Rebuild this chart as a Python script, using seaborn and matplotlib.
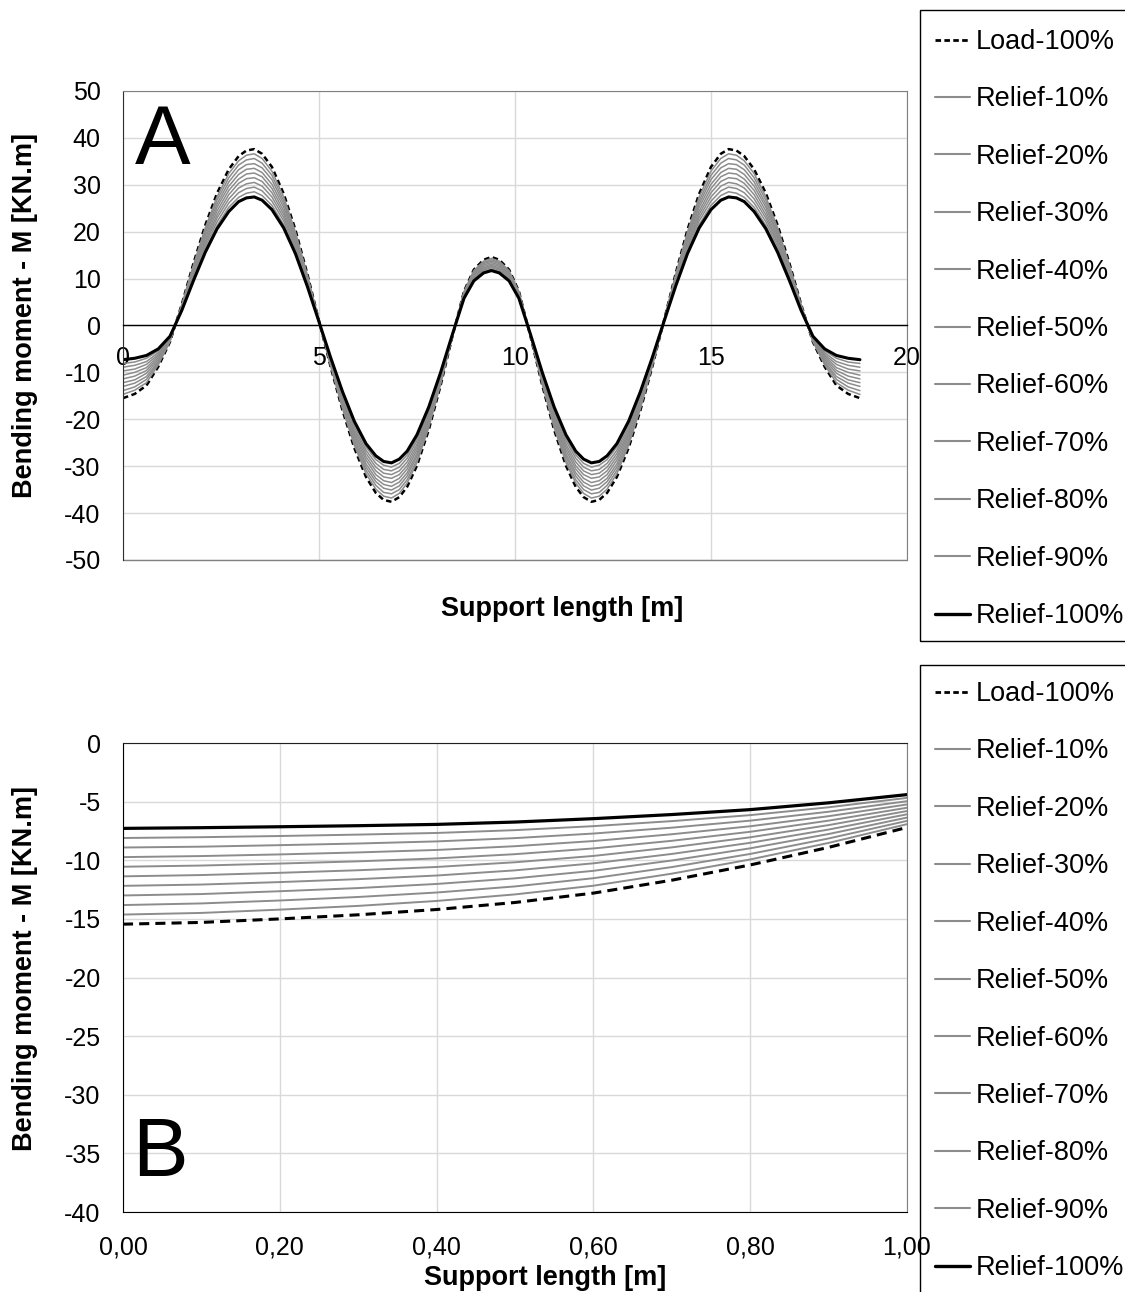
import matplotlib
matplotlib.use("Agg")
import matplotlib.pyplot as plt
from matplotlib.lines import Line2D
from matplotlib.patches import Rectangle
import seaborn as sns

sns.set_style("white")
plt.rcParams['font.family'] = ['Liberation Sans', 'DejaVu Sans']
plt.rcParams['axes.unicode_minus'] = False
plt.rcParams['text.color'] = 'black'
plt.rcParams['axes.labelcolor'] = 'black'
plt.rcParams['xtick.color'] = 'black'
plt.rcParams['ytick.color'] = 'black'

GREY = '#8c8c8c'

labels = ["Load-100%", "Relief-10%", "Relief-20%", "Relief-30%", "Relief-40%",
          "Relief-50%", "Relief-60%", "Relief-70%", "Relief-80%", "Relief-90%",
          "Relief-100%"]

# ---- panel A : whole support, 0 - 18.8 m ----
x_a = [0, 0.3, 0.6, 0.9, 1.2, 1.5, 1.8, 2.1, 2.4, 2.7, 2.95, 3.15, 3.35, 3.55,
       3.8, 4.1, 4.4, 4.7, 5.0, 5.3, 5.6, 5.9, 6.2, 6.45, 6.65, 6.85, 7.05,
       7.25, 7.5, 7.8, 8.1, 8.4, 8.7, 8.95, 9.2, 9.4, 9.6, 9.85, 10.1, 10.4,
       10.7, 11.0, 11.3, 11.55, 11.75, 11.95, 12.15, 12.35, 12.6, 12.9, 13.2,
       13.5, 13.8, 14.1, 14.4, 14.7, 15.0, 15.25, 15.45, 15.65, 15.85, 16.1,
       16.4, 16.7, 17.0, 17.3, 17.6, 17.9, 18.2, 18.5, 18.8]

load_a = [-15.5, -14.6, -12.8, -8.8, -3.5, 4.5, 13.3, 21.4, 28.2, 33.3, 36.1, 37.3,
          37.6, 36.6, 33.8, 28.1, 20.4, 11.1, 1.0, -8.9, -18.1, -26.1, -32.3, -35.7,
          -37.2, -37.6, -36.6, -34.4, -29.9, -22.3, -12.9, -2.5, 7.3, 11.9, 14.0, 14.6,
          14.0, 11.9, 7.3, -2.5, -12.9, -22.3, -29.9, -34.4, -36.6, -37.6, -37.2,
          -35.7, -32.3, -26.1, -18.1, -8.9, 1.0, 11.1, 20.4, 28.1, 33.8, 36.6, 37.6,
          37.3, 36.1, 33.3, 28.2, 21.4, 13.3, 4.5, -3.5, -8.8, -12.8, -14.6, -15.5]
relief10_a = [-14.7, -13.8, -12.2, -8.4, -3.4, 4.4, 12.9, 20.8, 27.4, 32.4, 35.1, 36.3,
              36.6, 35.6, 32.9, 27.4, 19.9, 10.8, 1.0, -8.7, -17.7, -25.5, -31.6, -34.9,
              -36.4, -36.8, -35.8, -33.6, -29.2, -21.8, -12.6, -2.4, 7.2, 11.7, 13.7, 14.3,
              13.7, 11.7, 7.2, -2.4, -12.6, -21.8, -29.2, -33.6, -35.8, -36.8, -36.4,
              -34.9, -31.6, -25.5, -17.7, -8.7, 1.0, 10.8, 19.9, 27.4, 32.9, 35.6, 36.6,
              36.3, 35.1, 32.4, 27.4, 20.8, 12.9, 4.4, -3.4, -8.4, -12.2, -13.8, -14.7]
relief20_a = [-13.9, -13.1, -11.5, -8.0, -3.3, 4.2, 12.6, 20.2, 26.7, 31.5, 34.2, 35.3,
              35.6, 34.6, 32.0, 26.6, 19.4, 10.6, 1.0, -8.5, -17.3, -25.0, -30.9, -34.1,
              -35.6, -35.9, -35.0, -32.9, -28.6, -21.3, -12.3, -2.4, 7.0, 11.4, 13.4, 14.0,
              13.4, 11.4, 7.0, -2.4, -12.3, -21.3, -28.6, -32.9, -35.0, -35.9, -35.6,
              -34.1, -30.9, -25.0, -17.3, -8.5, 1.0, 10.6, 19.4, 26.6, 32.0, 34.6, 35.6,
              35.3, 34.2, 31.5, 26.7, 20.2, 12.6, 4.2, -3.3, -8.0, -11.5, -13.1, -13.9]
relief30_a = [-13.0, -12.3, -10.9, -7.7, -3.1, 4.1, 12.2, 19.7, 25.9, 30.6, 33.2, 34.3,
              34.5, 33.6, 31.1, 25.9, 18.9, 10.3, 0.9, -8.3, -16.9, -24.4, -30.2, -33.3,
              -34.7, -35.1, -34.2, -32.1, -27.9, -20.8, -12.0, -2.3, 6.9, 11.2, 13.2, 13.7,
              13.2, 11.2, 6.9, -2.3, -12.0, -20.8, -27.9, -32.1, -34.2, -35.1, -34.7,
              -33.3, -30.2, -24.4, -16.9, -8.3, 0.9, 10.3, 18.9, 25.9, 31.1, 33.6, 34.5,
              34.3, 33.2, 30.6, 25.9, 19.7, 12.2, 4.1, -3.1, -7.7, -10.9, -12.3, -13.0]
relief40_a = [-12.2, -11.6, -10.2, -7.3, -3.0, 4.0, 11.8, 19.1, 25.2, 29.7, 32.2, 33.3,
              33.5, 32.6, 30.1, 25.2, 18.4, 10.0, 0.9, -8.1, -16.5, -23.8, -29.5, -32.6,
              -33.9, -34.3, -33.4, -31.4, -27.3, -20.3, -11.8, -2.3, 6.7, 10.9, 12.9, 13.4,
              12.9, 10.9, 6.7, -2.3, -11.8, -20.3, -27.3, -31.4, -33.4, -34.3, -33.9,
              -32.6, -29.5, -23.8, -16.5, -8.1, 0.9, 10.0, 18.4, 25.2, 30.1, 32.6, 33.5,
              33.3, 32.2, 29.7, 25.2, 19.1, 11.8, 4.0, -3.0, -7.3, -10.2, -11.6, -12.2]
relief50_a = [-11.4, -10.8, -9.6, -6.9, -2.9, 3.8, 11.4, 18.5, 24.4, 28.8, 31.2, 32.3,
              32.5, 31.7, 29.2, 24.4, 17.9, 9.8, 0.9, -7.9, -16.1, -23.2, -28.7, -31.8,
              -33.1, -33.5, -32.6, -30.6, -26.6, -19.8, -11.5, -2.2, 6.6, 10.7, 12.6, 13.1,
              12.6, 10.7, 6.6, -2.2, -11.5, -19.8, -26.6, -30.6, -32.6, -33.5, -33.1,
              -31.8, -28.7, -23.2, -16.1, -7.9, 0.9, 9.8, 17.9, 24.4, 29.2, 31.7, 32.5,
              32.3, 31.2, 28.8, 24.4, 18.5, 11.4, 3.8, -2.9, -6.9, -9.6, -10.8, -11.4]
relief60_a = [-10.6, -10.0, -9.0, -6.5, -2.8, 3.7, 11.1, 17.9, 23.6, 27.9, 30.3, 31.3,
              31.5, 30.7, 28.3, 23.7, 17.3, 9.5, 0.9, -7.7, -15.7, -22.7, -28.0, -31.0,
              -32.3, -32.6, -31.8, -29.9, -25.9, -19.4, -11.2, -2.2, 6.4, 10.5, 12.3, 12.8,
              12.3, 10.5, 6.4, -2.2, -11.2, -19.4, -25.9, -29.9, -31.8, -32.6, -32.3,
              -31.0, -28.0, -22.7, -15.7, -7.7, 0.9, 9.5, 17.3, 23.7, 28.3, 30.7, 31.5,
              31.3, 30.3, 27.9, 23.6, 17.9, 11.1, 3.7, -2.8, -6.5, -9.0, -10.0, -10.6]
relief70_a = [-9.7, -9.3, -8.3, -6.2, -2.7, 3.6, 10.7, 17.4, 22.9, 27.0, 29.3, 30.2,
              30.5, 29.7, 27.4, 23.0, 16.8, 9.2, 0.8, -7.5, -15.3, -22.1, -27.3, -30.2,
              -31.5, -31.8, -31.0, -29.1, -25.3, -18.9, -10.9, -2.1, 6.3, 10.2, 12.0, 12.6,
              12.0, 10.2, 6.3, -2.1, -10.9, -18.9, -25.3, -29.1, -31.0, -31.8, -31.5,
              -30.2, -27.3, -22.1, -15.3, -7.5, 0.8, 9.2, 16.8, 23.0, 27.4, 29.7, 30.5,
              30.2, 29.3, 27.0, 22.9, 17.4, 10.7, 3.6, -2.7, -6.2, -8.3, -9.3, -9.7]
relief80_a = [-8.9, -8.5, -7.7, -5.8, -2.5, 3.4, 10.3, 16.8, 22.1, 26.1, 28.3, 29.2,
              29.5, 28.7, 26.5, 22.3, 16.3, 9.0, 0.8, -7.3, -14.9, -21.5, -26.6, -29.4,
              -30.7, -31.0, -30.2, -28.3, -24.6, -18.4, -10.6, -2.1, 6.1, 10.0, 11.8, 12.3,
              11.8, 10.0, 6.1, -2.1, -10.6, -18.4, -24.6, -28.3, -30.2, -31.0, -30.7,
              -29.4, -26.6, -21.5, -14.9, -7.3, 0.8, 9.0, 16.3, 22.3, 26.5, 28.7, 29.5,
              29.2, 28.3, 26.1, 22.1, 16.8, 10.3, 3.4, -2.5, -5.8, -7.7, -8.5, -8.9]
relief90_a = [-8.1, -7.8, -7.0, -5.4, -2.4, 3.3, 9.9, 16.2, 21.3, 25.2, 27.3, 28.2,
              28.5, 27.7, 25.6, 21.5, 15.8, 8.7, 0.8, -7.1, -14.5, -20.9, -25.9, -28.6,
              -29.8, -30.2, -29.4, -27.6, -24.0, -17.9, -10.3, -2.0, 6.0, 9.8, 11.5, 12.0,
              11.5, 9.8, 6.0, -2.0, -10.3, -17.9, -24.0, -27.6, -29.4, -30.2, -29.8,
              -28.6, -25.9, -20.9, -14.5, -7.1, 0.8, 8.7, 15.8, 21.5, 25.6, 27.7, 28.5,
              28.2, 27.3, 25.2, 21.3, 16.2, 9.9, 3.3, -2.4, -5.4, -7.0, -7.8, -8.1]
relief100_a = [-7.3, -7.0, -6.4, -5.0, -2.3, 3.2, 9.6, 15.6, 20.6, 24.3, 26.4, 27.2,
               27.4, 26.7, 24.7, 20.8, 15.3, 8.4, 0.8, -6.9, -14.1, -20.4, -25.2, -27.8,
               -29.0, -29.3, -28.5, -26.8, -23.3, -17.4, -10.1, -2.0, 5.8, 9.5, 11.2, 11.7,
               11.2, 9.5, 5.8, -2.0, -10.1, -17.4, -23.3, -26.8, -28.5, -29.3, -29.0,
               -27.8, -25.2, -20.4, -14.1, -6.9, 0.8, 8.4, 15.3, 20.8, 24.7, 26.7, 27.4,
               27.2, 26.4, 24.3, 20.6, 15.6, 9.6, 3.2, -2.3, -5.0, -6.4, -7.0, -7.3]

# ---- panel B : first metre of the support ----
x_b = [0.0, 0.1, 0.2, 0.3, 0.4, 0.5, 0.6, 0.7, 0.8, 0.9, 1.0]
load_b = [-15.45, -15.3, -15.0, -14.65, -14.2, -13.6, -12.8, -11.7, -10.4, -8.9, -7.2]
relief10_b = [-14.63, -14.49, -14.21, -13.89, -13.47, -12.91, -12.17, -11.14, -9.93, -8.52, -6.92]
relief20_b = [-13.82, -13.68, -13.43, -13.13, -12.75, -12.23, -11.53, -10.58, -9.46, -8.14, -6.64]
relief30_b = [-13.0, -12.88, -12.64, -12.37, -12.02, -11.54, -10.9, -10.02, -8.98, -7.76, -6.36]
relief40_b = [-12.18, -12.07, -11.86, -11.61, -11.3, -10.86, -10.26, -9.46, -8.51, -7.38, -6.08]
relief50_b = [-11.37, -11.26, -11.07, -10.85, -10.57, -10.17, -9.63, -8.9, -8.04, -7.0, -5.8]
relief60_b = [-10.55, -10.45, -10.28, -10.09, -9.84, -9.48, -8.99, -8.34, -7.57, -6.62, -5.52]
relief70_b = [-9.73, -9.64, -9.5, -9.33, -9.12, -8.8, -8.36, -7.78, -7.1, -6.24, -5.24]
relief80_b = [-8.91, -8.84, -8.71, -8.57, -8.39, -8.11, -7.72, -7.22, -6.62, -5.86, -4.96]
relief90_b = [-8.1, -8.03, -7.93, -7.81, -7.67, -7.43, -7.09, -6.66, -6.15, -5.48, -4.68]
relief100_b = [-7.28, -7.22, -7.14, -7.05, -6.94, -6.74, -6.45, -6.1, -5.68, -5.1, -4.4]

x_b_ticks = [0.0, 0.2, 0.4, 0.6, 0.8, 1.0]
x_b_ticklabels = ["0,00", "0,20", "0,40", "0,60", "0,80", "1,00"]

series_a = [load_a, relief10_a, relief20_a, relief30_a, relief40_a, relief50_a,
            relief60_a, relief70_a, relief80_a, relief90_a, relief100_a]
series_b = [load_b, relief10_b, relief20_b, relief30_b, relief40_b, relief50_b,
            relief60_b, relief70_b, relief80_b, relief90_b, relief100_b]

W, H = 1125, 1292


def draw_lines(ax, x, series, lw_grey, lw_black, lw_dash, dashes):
    n = len(series)
    for i, y in enumerate(series):
        if i == 0:
            sns.lineplot(x=x, y=y, ax=ax, color='black', linewidth=lw_dash,
                         estimator=None, errorbar=None)
            ax.lines[-1].set_dashes(dashes)
        elif i == n - 1:
            sns.lineplot(x=x, y=y, ax=ax, color='black', linewidth=lw_black,
                         estimator=None, errorbar=None)
        else:
            sns.lineplot(x=x, y=y, ax=ax, color=GREY, linewidth=lw_grey,
                         estimator=None, errorbar=None)


def add_legend(fig, box_top, box_bottom, first_row):
    # frame drawn by hand so it can run off the page like the original
    fig.patches.append(Rectangle((920 / W, 1 - box_bottom / H),
                                 (1135 - 920) / W, (box_bottom - box_top) / H,
                                 transform=fig.transFigure, fill=False,
                                 edgecolor='black', linewidth=1.0))
    handles = [Line2D([], [], color='black', lw=2.0, dashes=(2.0, 1.2))]
    handles += [Line2D([], [], color=GREY, lw=1.5) for _ in range(9)]
    handles += [Line2D([], [], color='black', lw=2.4)]
    fig.legend(handles, labels, loc='upper left',
               bbox_to_anchor=(935 / W, 1 - (first_row - 11) / H),
               frameon=False, fontsize=19.5,
               handlelength=1.3, handletextpad=0.19, borderpad=0,
               labelspacing=1.16, borderaxespad=0)


fig = plt.figure(figsize=(11.25, 12.92), dpi=100)
ax_a = fig.add_axes([0.1093, 0.5666, 0.6969, 0.3630])
ax_b = fig.add_axes([0.1093, 0.0619, 0.6969, 0.3630])

# panel A
draw_lines(ax_a, x_a, series_a, 1.1, 2.2, 1.8, (2.2, 1.4))
ax_a.set_xlim(0, 20)
ax_a.set_ylim(-50, 50)
ax_a.set_xticks([0, 5, 10, 15, 20])
ax_a.set_yticks(range(-50, 51, 10))
ax_a.set_axisbelow(True)
ax_a.grid(True, color='#d9d9d9', linewidth=1.0)
ax_a.axhline(-50, color='#808080', linewidth=1.0, clip_on=False)
ax_a.spines['bottom'].set_position(('data', 0))
ax_a.spines['bottom'].set_color('black')
ax_a.spines['bottom'].set_linewidth(1.0)
ax_a.spines['left'].set_color('#303030')
ax_a.spines['top'].set_color('#808080')
ax_a.spines['right'].set_color('#808080')
ax_a.tick_params(axis='x', direction='inout', length=10, width=1,
                 labelsize=18, pad=10, color='black')
ax_a.tick_params(axis='y', length=0, labelsize=18, pad=16)
ax_a.set_xlabel("Support length [m]", fontsize=19.5, fontweight='bold')
ax_a.xaxis.set_label_coords(0.56, -0.104)
ax_a.xaxis.label.set_va('center')
ax_a.set_ylabel("Bending moment - M [KN.m]", fontsize=19.5, fontweight='bold')
ax_a.yaxis.set_label_coords(-0.125, 0.522)
ax_a.yaxis.label.set_va('center')
ax_a.text(0.05, 0.891, "A", transform=ax_a.transAxes, fontsize=60,
          ha='center', va='center')

# panel B
draw_lines(ax_b, x_b, series_b, 1.4, 2.3, 2.2, (3.3, 2.0))
ax_b.set_xlim(0, 1)
ax_b.set_ylim(-40, 0)
ax_b.set_xticks(x_b_ticks)
ax_b.set_xticklabels(x_b_ticklabels)
ax_b.set_yticks(range(-40, 1, 5))
ax_b.set_axisbelow(True)
ax_b.grid(True, color='#d9d9d9', linewidth=1.0)
ax_b.spines['bottom'].set_color('black')
ax_b.spines['left'].set_color('black')
ax_b.spines['top'].set_color('#202020')
ax_b.spines['right'].set_color('#808080')
ax_b.tick_params(axis='x', direction='inout', length=10, width=1,
                 labelsize=18, pad=12, color='black')
ax_b.tick_params(axis='y', length=0, labelsize=18, pad=16)
ax_b.set_xlabel("Support length [m]", fontsize=19.5, fontweight='bold')
ax_b.xaxis.set_label_coords(0.538, -0.141)
ax_b.xaxis.label.set_va('center')
ax_b.set_ylabel("Bending moment - M [KN.m]", fontsize=19.5, fontweight='bold')
ax_b.yaxis.set_label_coords(-0.125, 0.52)
ax_b.yaxis.label.set_va('center')
ax_b.text(0.047, 0.124, "B", transform=ax_b.transAxes, fontsize=60,
          ha='center', va='center')

add_legend(fig, 10, 641, 40)
add_legend(fig, 665, 1300, 692)

fig.savefig("out.png", dpi=100)
